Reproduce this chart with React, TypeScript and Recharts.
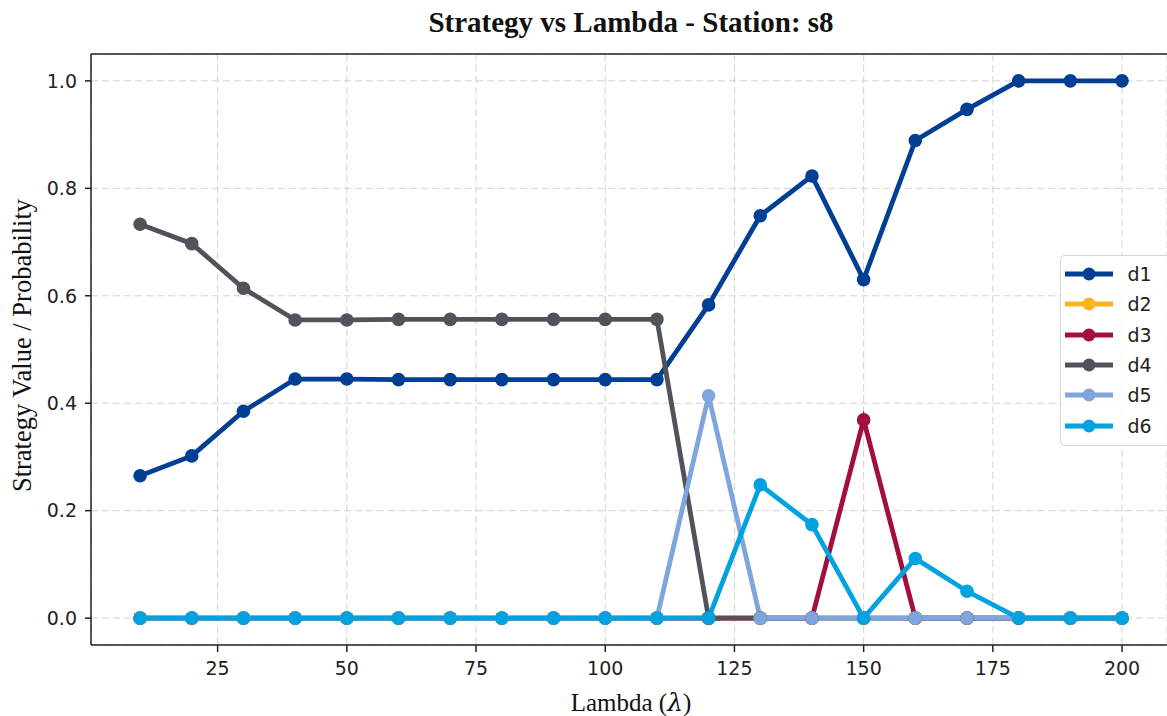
import React from "react";
import { LineChart, Line, XAxis, YAxis, CartesianGrid, Legend, ReferenceLine, Label } from "recharts";

const lambdas = [10, 20, 30, 40, 50, 60, 70, 80, 90, 100, 110, 120, 130, 140, 150, 160, 170, 180, 190, 200];

const d1 = [0.265, 0.302, 0.385, 0.445, 0.445, 0.444, 0.444, 0.444, 0.444, 0.444, 0.444, 0.583, 0.749, 0.823, 0.63, 0.889, 0.947, 1.0, 1.0, 1.0];
const d2 = [0, 0, 0, 0, 0, 0, 0, 0, 0, 0, 0, 0, 0, 0, 0, 0, 0, 0, 0, 0];
const d3 = [0, 0, 0, 0, 0, 0, 0, 0, 0, 0, 0, 0, 0, 0, 0.369, 0, 0, 0, 0, 0];
const d4 = [0.733, 0.697, 0.614, 0.555, 0.555, 0.556, 0.556, 0.556, 0.556, 0.556, 0.556, 0, 0, 0, 0, 0, 0, 0, 0, 0];
const d5 = [0, 0, 0, 0, 0, 0, 0, 0, 0, 0, 0, 0.414, 0, 0, 0, 0, 0, 0, 0, 0];
const d6 = [0, 0, 0, 0, 0, 0, 0, 0, 0, 0, 0, 0, 0.248, 0.174, 0, 0.111, 0.05, 0, 0, 0];

const seriesNames = ["d1", "d2", "d3", "d4", "d5", "d6"];
const seriesColors = ["#003f94", "#fbb41c", "#a20f3f", "#50545a", "#7ea6dd", "#00a3e0"];

const xTicks = [25, 50, 75, 100, 125, 150, 175, 200];
const yTicks = [0, 0.2, 0.4, 0.6, 0.8, 1.0];

const data = lambdas.map((l, i) => ({
  lambda: l,
  d1: d1[i],
  d2: d2[i],
  d3: d3[i],
  d4: d4[i],
  d5: d5[i],
  d6: d6[i],
}));

const tickStyle = { fontSize: 19, fill: "#222", fontFamily: "DejaVu Sans" };

function LegendBox() {
  return (
    <div
      style={{
        border: "1.5px solid #d5d5d5",
        borderRight: "none",
        borderRadius: "5px 0 0 5px",
        background: "rgba(255,255,255,0.85)",
        padding: "3px 0 4px 3.5px",
        fontFamily: "DejaVu Sans",
        fontSize: 19,
        color: "#222",
      }}
    >
      {seriesNames.map((name, i) => (
        <div key={name} style={{ display: "flex", alignItems: "center", height: 30.3 }}>
          <svg width={52} height={20}>
            <line x1={0} x2={48} y1={10} y2={10} stroke={seriesColors[i]} strokeWidth={4.8} />
            <circle cx={24} cy={10} r={6.5} fill={seriesColors[i]} />
          </svg>
          <span style={{ marginLeft: 11 }}>{name}</span>
        </div>
      ))}
    </div>
  );
}

export default function App() {
  return (
    <div style={{ position: "absolute", left: 0, top: 0, width: 1167, height: 716, overflow: "hidden", background: "#fff" }}>
      <div
        style={{
          position: "absolute",
          left: 0,
          top: 8,
          width: 1262,
          textAlign: "center",
          fontFamily: "Liberation Serif",
          fontWeight: "bold",
          fontSize: 29,
          lineHeight: "29px",
          color: "#111",
        }}
      >
        Strategy vs Lambda - Station: s8
      </div>
      <LineChart width={1167} height={716} data={data} margin={{ top: 54, right: 0, bottom: 11, left: 31 }}>
        <CartesianGrid stroke="#d2d2d2" strokeDasharray="7 4" />
        <XAxis
          dataKey="lambda"
          type="number"
          domain={[0.5, 208.7]}
          ticks={xTicks}
          allowDataOverflow
          height={60}
          tick={tickStyle}
          tickSize={7}
          tickMargin={10}
          tickLine={{ stroke: "#222", strokeWidth: 1.5 }}
          axisLine={{ stroke: "#222", strokeWidth: 1.5 }}
        >
          <Label
            content={(props: any) => {
              const vb = props.viewBox;
              return (
                <text x={631} y={711} textAnchor="middle" fontFamily="Liberation Serif" fontSize={25} fill="#111">
                  Lambda (<tspan fontStyle="italic" fontFamily="DejaVu Serif">λ</tspan>)
                </text>
              );
            }}
          />
        </XAxis>
        <YAxis
          type="number"
          domain={[-0.05, 1.05]}
          ticks={yTicks}
          allowDataOverflow
          width={60}
          tick={tickStyle}
          tickFormatter={(v: number) => v.toFixed(1)}
          tickSize={6}
          tickMargin={8}
          tickLine={{ stroke: "#222", strokeWidth: 1.5 }}
          axisLine={{ stroke: "#222", strokeWidth: 1.5 }}
        >
          <Label
            content={(props: any) => {
              const vb = props.viewBox;
              const cy = vb.y + vb.height / 2 - 4;
              return (
                <text
                  x={31}
                  y={cy}
                  transform={`rotate(-90, 31, ${cy})`}
                  textAnchor="middle"
                  fontFamily="Liberation Serif"
                  fontSize={26.5}
                  fill="#111"
                >
                  Strategy Value / Probability
                </text>
              );
            }}
          />
        </YAxis>
        <ReferenceLine y={1.05} stroke="#222" strokeWidth={1.5} />
        {seriesNames.map((name, i) => (
          <Line
            key={name}
            type="linear"
            dataKey={name}
            stroke={seriesColors[i]}
            strokeWidth={4.8}
            dot={{ r: 6.8, fill: seriesColors[i], stroke: seriesColors[i], strokeWidth: 0 }}
            activeDot={false}
            isAnimationActive={false}
          />
        ))}
        <Legend
          layout="vertical"
          align="center"
          verticalAlign="middle"
          wrapperStyle={{ left: 1060, top: 255, width: 107 }}
          content={() => <LegendBox />}
        />
      </LineChart>
    </div>
  );
}
